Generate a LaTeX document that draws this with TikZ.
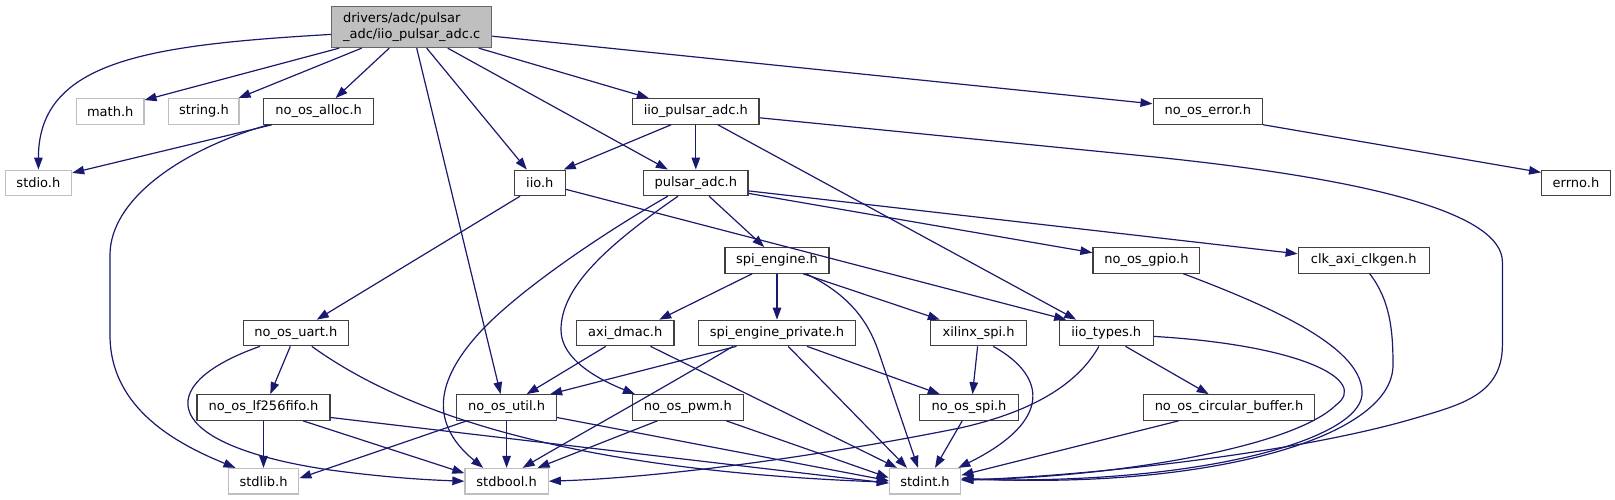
\documentclass[tikz,border=0pt]{standalone}
\usepackage{fontspec}
\setmainfont{DejaVu Sans}
\usetikzlibrary{arrows.meta,calc}
\definecolor{mblue}{HTML}{191970}
\definecolor{cgA}{HTML}{404040}
\definecolor{cgB}{HTML}{BFBFBF}
\definecolor{cgC}{HTML}{666666}
\tikzset{
  hdr/.style={draw=cgA, fill=white, line width=1.2pt, minimum height=25.5pt, inner sep=0pt, font=\fontsize{13}{15.5}\selectfont},
  sys/.style={hdr, draw=cgB},
  mainnode/.style={hdr, fill=cgB, draw=cgC, minimum height=41.3pt, align=left},
  dep/.style={draw=mblue, line width=1.2pt, -{Triangle[length=12pt,width=8.5pt]}},
}
\begin{document}
\begin{tikzpicture}[x=1pt,y=-1pt]
\useasboundingbox (0,0) rectangle (1615,500);
% nodes
\node[mainnode, minimum width=160pt] (main) at (411.7,26.9) {drivers/adc/pulsar\\\_adc/iio\_pulsar\_adc.c};
\node[sys, minimum width=67.5pt] (math) at (110.2,111.4) {math.h};
\node[sys, minimum width=70.2pt] (string) at (203.9,111.4) {string.h};
\node[hdr, minimum width=110.2pt] (alloc) at (318.6,111.4) {no\_os\_alloc.h};
\node[hdr, minimum width=126.4pt] (iiopa) at (695.8,111.4) {iio\_pulsar\_adc.h};
\node[hdr, minimum width=109.4pt] (error) at (1207.8,111.4) {no\_os\_error.h};
\node[sys, minimum width=66.4pt] (stdio) at (38.4,182.9) {stdio.h};
\node[hdr, minimum width=50.6pt] (iio) at (539.8,182.9) {iio.h};
\node[hdr, minimum width=104.4pt] (pulsar) at (695.8,182.9) {pulsar\_adc.h};
\node[hdr, minimum width=68.7pt] (errno) at (1576,182.9) {errno.h};
\node[hdr, minimum width=104pt] (spieng) at (777,260.4) {spi\_engine.h};
\node[hdr, minimum width=106.9pt] (gpio) at (1146.4,260.4) {no\_os\_gpio.h};
\node[hdr, minimum width=131pt] (clk) at (1363.7,260.4) {clk\_axi\_clkgen.h};
\node[hdr, minimum width=105.4pt] (uart) at (295.8,333) {no\_os\_uart.h};
\node[hdr, minimum width=97.5pt] (dmac) at (625.2,333) {axi\_dmac.h};
\node[hdr, minimum width=157.4pt] (spipriv) at (777,333) {spi\_engine\_private.h};
\node[hdr, minimum width=96.1pt] (xspi) at (978.6,333) {xilinx\_spi.h};
\node[hdr, minimum width=93.8pt] (iiotypes) at (1106.2,333) {iio\_types.h};
\node[hdr, minimum width=132.9pt] (fifo) at (263.5,407.5) {no\_os\_lf256fifo.h};
\node[hdr, minimum width=99.6pt] (util) at (506.6,407.5) {no\_os\_util.h};
\node[hdr, minimum width=110.6pt] (pwm) at (687.9,407.5) {no\_os\_pwm.h};
\node[hdr, minimum width=98.5pt] (nospi) at (969,407.5) {no\_os\_spi.h};
\node[hdr, minimum width=171pt] (circ) at (1229,407.5) {no\_os\_circular\_buffer.h};
\node[sys, minimum width=70.6pt] (stdlib) at (263.5,481.2) {stdlib.h};
\node[sys, minimum width=83.3pt] (stdbool) at (506.6,481.2) {stdbool.h};
\node[sys, minimum width=71.4pt] (stdint) at (925,481.2) {stdint.h};
% main
\draw[dep] ([yshift=-7.5]main.west) .. controls (150,45) and (38.4,60) .. (stdio.north);
\draw[dep] ([xshift=-72.5]main.south) -- ([yshift=-2]math.north east);
\draw[dep] ([xshift=-50]main.south) -- ([xshift=-1]string.north east);
\draw[dep] ([xshift=-22.5]main.south) -- ([xshift=17]alloc.north);
\draw[dep] ([xshift=5]main.south) -- ([xshift=-6]util.north);
\draw[dep] ([xshift=15]main.south) -- ([xshift=-13]iio.north);
\draw[dep] ([xshift=36]main.south) -- ([xshift=-28]pulsar.north);
\draw[dep] ([xshift=67]main.south) -- ([xshift=-47]iiopa.north);
\draw[dep] ([yshift=-9.3]main.east) -- ([yshift=7.6]error.west);
% alloc
\draw[dep] ([xshift=-46.6]alloc.south) -- ([yshift=10]stdio.east);
\draw[dep] ([xshift=-50]alloc.south) .. controls (180,150) and (110,200) .. (110,255) -- (110,335) .. controls (110,410) and (180,445) .. ([xshift=-28]stdlib.north);
% iio_pulsar_adc
\draw[dep] ([xshift=-24.6]iiopa.south) -- ([xshift=-2]iio.north east);
\draw[dep] (iiopa.south) -- (pulsar.north);
\draw[dep] ([xshift=22]iiopa.south) -- ([xshift=-30]iiotypes.north);
\draw[dep] ([yshift=-6.4]iiopa.east) -- (1150,156.5) .. controls (1380,180) and (1502.4,215) .. (1502.4,262) -- (1502.4,345) .. controls (1502.4,395) and (1460,405) .. (1414,418.5) .. controls (1300,452) and (1100,475) .. ([yshift=1]stdint.east);
% error
\draw[dep] (error.south east) -- ([yshift=10.5]errno.west);
% iio
\draw[dep] ([xshift=-19.8]iio.south) -- ([xshift=21]uart.north);
\draw[dep] ([yshift=-6.4]iio.east) -- ([xshift=-40]iiotypes.north);
% pulsar
\draw[dep] ([xshift=-28]pulsar.south) .. controls (600,235) and (520,290) .. (482,330) .. controls (440,375) and (425,420) .. ([xshift=-23.4]stdbool.north);
\draw[dep] ([xshift=-17.8]pulsar.south) .. controls (600,250) and (561,290) .. (561,330) .. controls (561,360) and (600,380) .. ([xshift=3]pwm.north west);
\draw[dep] ([xshift=13.3]pulsar.south) -- ([xshift=-12.7]spieng.north);
\draw[dep] ([yshift=-10.5]pulsar.east) -- ([yshift=7.7]gpio.west);
\draw[dep] ([yshift=-8]pulsar.east) -- ([yshift=6.6]clk.west);
% spi_engine
\draw[dep] ([xshift=-24.8]spieng.south) -- ([xshift=34]dmac.north);
\draw[dep] (spieng.south) -- (spipriv.north);
\draw[dep] ([xshift=26]spieng.south) -- ([xshift=-38.8]xspi.north);
\draw[dep] ([xshift=29]spieng.south) .. controls (850,295) and (868,322) .. (878,350) -- ([xshift=-7]stdint.north);
% gpio, clk
\draw[dep] ([xshift=37]gpio.south) .. controls (1280,310) and (1365,350) .. (1362,395) .. controls (1358,440) and (1200,485) .. ([yshift=2]stdint.east);
\draw[dep] ([xshift=6]clk.south) .. controls (1390,300) and (1393,330) .. (1393,365) .. controls (1393,440) and (1200,490) .. ([yshift=3]stdint.east);
% uart
\draw[dep] ([xshift=-5.5]uart.south) -- ([xshift=6.8]fifo.north);
\draw[dep] ([xshift=-35.8]uart.south) .. controls (150,385) and (160,445) .. (330,470) .. controls (390,478) and (430,480) .. (stdbool.west);
\draw[dep] ([xshift=16]uart.south) .. controls (400,410) and (560,470) .. ([yshift=-1]stdint.west);
% axi_dmac
\draw[dep] ([xshift=-19.4]dmac.south) -- ([xshift=20]util.north);
\draw[dep] ([xshift=25.3]dmac.south) -- ([xshift=-28]stdint.north);
% spi_engine_private
\draw[dep] ([xshift=-40.5]spipriv.south) -- ([xshift=43.5]util.north);
\draw[dep] ([xshift=-44]spipriv.south) .. controls (660,390) and (570,440) .. ([xshift=16]stdbool.north);
\draw[dep] ([xshift=11.2]spipriv.south) -- ([xshift=-18]stdint.north);
\draw[dep] ([xshift=30]spipriv.south) -- ([xshift=-29.2]nospi.north);
% xilinx_spi
\draw[dep] ([xshift=-1]xspi.south) -- ([xshift=3.5]nospi.north);
\draw[dep] ([xshift=14.6]xspi.south) .. controls (1045,375) and (1055,420) .. ([xshift=-3]stdint.north east);
% iio_types
\draw[dep] ([xshift=19.3]iiotypes.south) -- ([xshift=-20.3]circ.north);
\draw[dep] ([xshift=-7.3]iiotypes.south) .. controls (1080,380) and (1040,410) .. (960,428) .. controls (800,460) and (650,478) .. (stdbool.east);
\draw[dep] ([yshift=-3.4]iiotypes.east) .. controls (1300,345) and (1370,380) .. (1336,405) .. controls (1290,450) and (1100,478) .. ([yshift=1.5]stdint.east);
% lf256fifo
\draw[dep] (fifo.south) -- (stdlib.north);
\draw[dep] ([xshift=39.5]fifo.south) -- ([yshift=8]stdbool.west);
\draw[dep] ([yshift=-10]fifo.east) -- ([yshift=-2]stdint.west);
% util
\draw[dep] ([xshift=-39.8]util.south) -- ([yshift=3]stdlib.east);
\draw[dep] (util.south) -- (stdbool.north);
\draw[dep] ([yshift=-10]util.east) -- ([yshift=0.5]stdint.west);
% pwm
\draw[dep] ([xshift=-30.5]pwm.south) -- ([xshift=31]stdbool.north);
\draw[dep] ([xshift=38.4]pwm.south) -- ([yshift=3.5]stdint.west);
% no_os_spi
\draw[dep] ([xshift=-6.8]nospi.south) -- ([xshift=10]stdint.north);
% circular buffer
\draw[dep] ([xshift=-50.4]circ.south) -- ([yshift=6]stdint.east);
\end{tikzpicture}
\end{document}
